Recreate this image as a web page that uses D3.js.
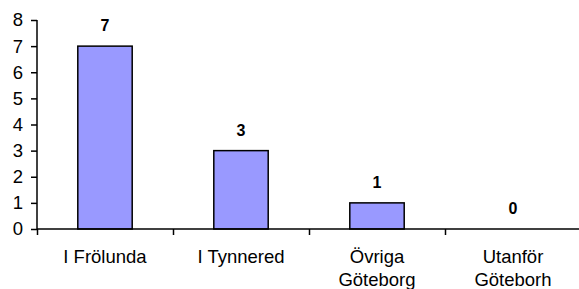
<!DOCTYPE html>
<html>
<head>
<meta charset="utf-8">
<script src="https://cdn.jsdelivr.net/npm/d3@7"></script>
<style>
  body { margin: 0; background: #fff; }
  text { font-family: "Liberation Sans", Arial, sans-serif; }
</style>
</head>
<body>
<div id="chart"></div>
<script>
// data
var categories = [["I Frölunda"], ["I Tynnered"], ["Övriga", "Göteborg"], ["Utanför", "Göteborh"]];
var values = [7, 3, 1, 0];
var yTicks = [0, 1, 2, 3, 4, 5, 6, 7, 8];

var W = 579, H = 289;
var margin = {top: 20, right: -2, bottom: 60, left: 37};
var width = W - margin.left - margin.right,
    height = H - margin.top - margin.bottom;

var svg = d3.select("#chart").append("svg")
    .attr("width", W).attr("height", H)
  .append("g")
    .attr("transform", "translate(" + margin.left + "," + margin.top + ")");

var x = d3.scaleBand()
  .domain(d3.range(values.length))
  .range([0, width])
  .paddingInner(0.6).paddingOuter(0.3);

var xb = d3.scaleLinear().domain([0, values.length]).range([0, width]);

var y = d3.scaleLinear().domain([0, 8]).range([height, 0]);

// bars
svg.selectAll("rect.bar")
  .data(values)
  .enter().append("rect")
    .attr("class", "bar")
    .attr("x", function(d, i) { return xb(i + 0.5) - x.bandwidth() / 2; })
    .attr("width", x.bandwidth())
    .attr("y", function(d) { return y(d); })
    .attr("height", function(d) { return height - y(d); })
    .style("fill", "#9999ff")
    .style("stroke", "#000")
    .style("stroke-width", 1.5)
    .style("display", function(d) { return d > 0 ? null : "none"; });

// value labels
svg.selectAll("text.val")
  .data(values)
  .enter().append("text")
    .attr("class", "val")
    .attr("x", function(d, i) { return xb(i + 0.5); })
    .attr("y", function(d) { return y(d) - 15; })
    .attr("text-anchor", "middle")
    .style("font-size", "16px")
    .style("font-weight", "bold")
    .text(function(d) { return d; });

// y axis
var yAxis = svg.append("g")
  .call(d3.axisLeft(y).tickValues(yTicks).tickSize(6).tickPadding(8));
yAxis.select(".domain").attr("stroke", "#000").attr("stroke-width", 1.5).attr("d", "M0," + height + "V0");
yAxis.selectAll(".tick line").attr("stroke", "#000").attr("stroke-width", 1.5);
yAxis.selectAll(".tick text").style("font-size", "18.5px").attr("fill", "#000")
  .style("font-family", "'Liberation Sans', Arial, sans-serif");

// x axis
var xAxis = svg.append("g")
  .attr("transform", "translate(0," + height + ")")
  .call(d3.axisBottom(xb).tickValues(d3.range(values.length + 1)).tickSize(6).tickFormat(""));
xAxis.select(".domain").attr("stroke", "#000").attr("stroke-width", 1.5).attr("d", "M0,0H" + width);
xAxis.selectAll(".tick line").attr("stroke", "#000").attr("stroke-width", 1.5);

// category labels
var cat = svg.selectAll("text.cat")
  .data(categories)
  .enter().append("text")
    .attr("class", "cat")
    .attr("text-anchor", "middle")
    .attr("x", function(d, i) { return xb(i + 0.5); })
    .attr("y", height + 34)
    .style("font-size", "18.5px");
cat.selectAll("tspan")
  .data(function(d, i) { return d.map(function(s) { return {s: s, i: i}; }); })
  .enter().append("tspan")
    .attr("x", function(d) { return xb(d.i + 0.5); })
    .attr("dy", function(d, j) { return j === 0 ? 0 : 23; })
    .text(function(d) { return d.s; });
</script>
</body>
</html>
